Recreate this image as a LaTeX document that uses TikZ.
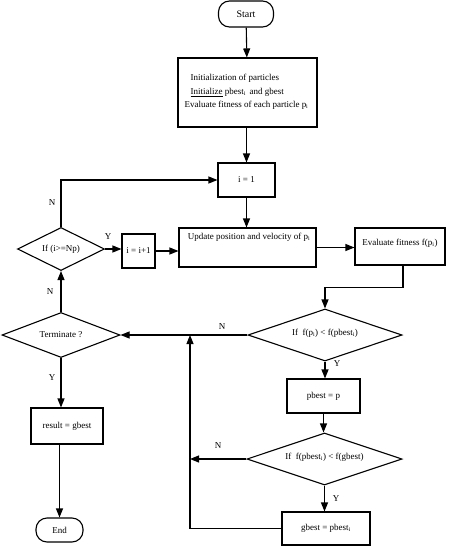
\documentclass[tikz,border=0pt]{standalone}
\usepackage{fontspec}
\setmainfont{Liberation Serif}
\usetikzlibrary{arrows.meta,shapes.geometric}
\begin{document}
\begin{tikzpicture}[x=1pt,y=-1pt,
  font=\fontsize{9}{13.5}\selectfont,
  line width=1.1pt,
  >={Triangle[length=9pt,width=7pt]},
  box/.style={draw, rectangle, inner sep=1pt},
  term/.style={draw, rectangle, rounded corners=11pt, inner sep=1pt},
  dec/.style={draw, diamond, inner sep=0pt},
  txt/.style={inner sep=0pt},
  lab/.style={inner sep=0pt}]
\useasboundingbox (0,0) rectangle (450,546);

% nodes
\node[term, minimum width=55pt, minimum height=26pt, font=\fontsize{10}{12}\selectfont] (start) at (246,14) {Start};
\node[box, minimum width=139pt, minimum height=69pt] (init) at (247.5,92.5) {};
\node[txt, align=left, anchor=north west] (initt) at (184,74)
  {\hspace*{6pt}Initialization of particles\\
   \hspace*{6pt}\underline{Initialize} pbest\textsubscript{i}\, and gbest\\
   Evaluate fitness of each particle p\textsubscript{i}};
\node[box, minimum width=57pt, minimum height=34pt] (i1) at (246.5,180) {i = 1};
\node[box, minimum width=137pt, minimum height=39pt] (upd) at (247.5,247.5) {};
\node[txt, anchor=north] (updt) at (249,233) {Update position and velocity of p\textsubscript{i}};
\node[dec, minimum width=87pt, minimum height=43pt] (np) at (61,249) {};
\node[txt] (npt) at (np) {If (i>=Np)};
\node[box, minimum width=33pt, minimum height=34pt] (inc) at (138.5,251) {i = i+1};
\node[box, minimum width=90pt, minimum height=37pt] (ev) at (400,246.5) {};
\node[txt] (evt) at (400,243) {Evaluate fitness f(p\textsubscript{i})};
\node[dec, minimum width=154pt, minimum height=52pt] (d2) at (325,335) {};
\node[txt] (d2t) at (325,333) {If\ \ f(p\textsubscript{i}) < f(pbest\textsubscript{i})};
\node[dec, minimum width=118pt, minimum height=45pt] (term) at (61,335) {};
\node[txt] (termt) at (term) {Terminate ?};
\node[box, minimum width=73pt, minimum height=34pt] (pb) at (323.5,396) {pbest = p};
\node[dec, minimum width=155pt, minimum height=52pt] (d3) at (324.5,459) {};
\node[txt] (d3t) at (324.5,457) {If\ \ f(pbest\textsubscript{i}) < f(gbest)};
\node[box, minimum width=88pt, minimum height=33pt] (gb) at (326,528.5) {gbest = pbest\textsubscript{i}};
\node[box, minimum width=72pt, minimum height=36pt] (res) at (67,426) {result = gbest};
\node[term, minimum width=47pt, minimum height=24pt] (end) at (59.5,530) {End};

\coordinate (j1) at (190,459);
\coordinate (j2) at (190,335);

% connectors
\draw[->] (start) -- (init);
\draw[->] (i1.north |- init.south) -- (i1.north);
\draw[->] (i1.south) -- (i1.south |- upd.north);
\draw[->] (np.east) -- (np.east -| inc.west);
\draw[->] (inc.east) -- (inc.east -| upd.west);
\draw[->] (np.north) |- (i1.west);
\draw[->] (upd.east) -- (upd.east -| ev.west);
\draw[->] ([xshift=3pt]ev.south) -- ++(0,22) -| (d2.north);
\draw[->] (d2.west) -- (term.east);
\draw[->] (term.north) -- (np.south);
\draw[->] (d2.south) -- (d2.south |- pb.north);
\draw[->] (pb.south) -- (pb.south |- d3.north);
\draw[->] (d3.south) -- (d3.south |- gb.north);
\draw[->] (d3.west) -- (j1);
\draw[->] (gb.west) -| (j2);
\draw[->] (term.south) -- (term.south |- res.north);
\draw[->] (end.north |- res.south) -- (end.north);

% labels
\node[lab] at (52,203) {N};
\node[lab] at (108,237) {Y};
\node[lab] at (50,292) {N};
\node[lab] at (52,378) {Y};
\node[lab] at (222,327) {N};
\node[lab] at (337,364) {Y};
\node[lab] at (218,446) {N};
\node[lab] at (336,499) {Y};
\end{tikzpicture}
\end{document}
